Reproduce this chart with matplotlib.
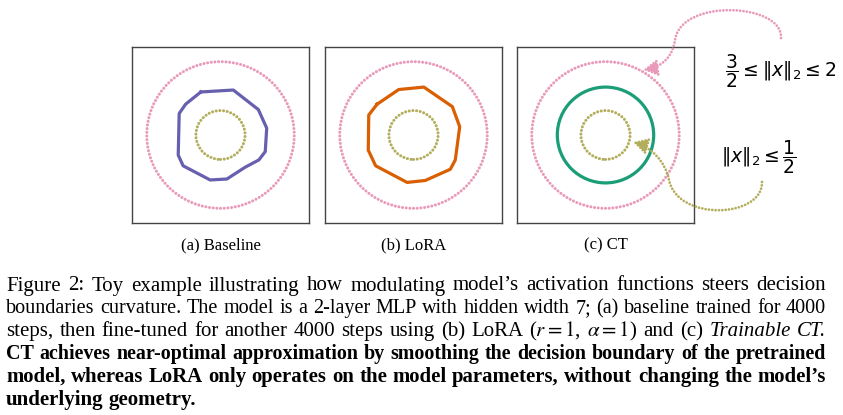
import numpy as np
import matplotlib
matplotlib.use("Agg")
import matplotlib.pyplot as plt
from matplotlib.patches import Circle, FancyArrowPatch
from matplotlib.path import Path

W, H = 843, 415

# ring radii of the toy data (inner class / outer class)
inner_radius = 0.5
outer_radius = 1.5

# decision boundaries (x, y in data units)
baseline_x = [-0.40, 0.26, 0.77, 0.94, 0.91, 0.78, 0.50, 0.13, -0.21, -0.76, -0.86, -0.84, -0.71]
baseline_y = [0.88, 0.92, 0.52, 0.14, -0.34, -0.51, -0.66, -0.90, -0.92, -0.63, -0.41, 0.44, 0.63]

lora_x = [-0.74, -0.30, 0.21, 0.79, 0.94, 0.85, 0.75, 0.24, -0.13, -0.77, -0.92, -0.91]
lora_y = [0.63, 0.93, 0.98, 0.58, 0.17, -0.51, -0.70, -0.93, -0.97, -0.63, -0.31, 0.41]

ct_radius = 0.98

panel_labels = ["(a) Baseline", "(b) LoRA", "(c) CT"]

COLORS = {
    "pink": "#e99abb",
    "olive": "#b3ae5c",
    "purple": "#6660ae",
    "orange": "#d95f02",
    "green": "#1b9e77",
    "frame": "#444444",
}

DOTS = (0, (0.01, 1.2))
LIM = 1.8

fig = plt.figure(figsize=(W / 100, H / 100), dpi=100)


def px_axes(left, top, w, h):
    return fig.add_axes([left / W, 1 - (top + h) / H, w / W, h / H])


def rings(ax):
    for r, c in [(outer_radius, COLORS["pink"]), (inner_radius, COLORS["olive"])]:
        circ = Circle((0, 0), r, fill=False, edgecolor=c, lw=2.2, linestyle=DOTS)
        circ.set_capstyle("round")
        ax.add_patch(circ)


def setup_panel(ax):
    ax.set_xlim(-LIM, LIM)
    ax.set_ylim(-LIM, LIM)
    ax.set_xticks([])
    ax.set_yticks([])
    for s in ax.spines.values():
        s.set_color(COLORS["frame"])
        s.set_linewidth(1.0)
    rings(ax)


lefts = [132, 325, 517]
axes = [px_axes(l, 47, 177, 176) for l in lefts]
for ax in axes:
    setup_panel(ax)

axes[0].plot(np.r_[baseline_x, baseline_x[0]], np.r_[baseline_y, baseline_y[0]],
             color=COLORS["purple"], lw=2.3, solid_joinstyle="round")
axes[1].plot(np.r_[lora_x, lora_x[0]], np.r_[lora_y, lora_y[0]],
             color=COLORS["orange"], lw=2.3, solid_joinstyle="round")
axes[2].add_patch(Circle((0, 0), ct_radius, fill=False, edgecolor=COLORS["green"], lw=2.3))

for l, lab in zip(lefts, panel_labels):
    fig.text((l + 88.5) / W, 1 - 249 / H, lab, ha="center", va="baseline",
             family="Liberation Serif", fontsize=12)

# overlay for the annotation arrows (pixel coordinates)
over = fig.add_axes([0, 0, 1, 1], zorder=5)
over.set_xlim(0, W)
over.set_ylim(H, 0)
over.axis("off")
over.patch.set_alpha(0)

pink_path = Path([(781, 38), (783, 3), (681, -2), (675, 40), (672, 62), (656, 68), (643, 70)],
                 [Path.MOVETO] + [Path.CURVE4] * 6)
olive_path = Path([(762, 182), (763, 218), (678, 222), (669, 180), (665, 160), (650, 147), (633, 142)],
                  [Path.MOVETO] + [Path.CURVE4] * 6)
for p, c in [(pink_path, COLORS["pink"]), (olive_path, COLORS["olive"])]:
    arr = FancyArrowPatch(path=p, arrowstyle="-|>,head_length=0.7,head_width=0.4",
                          mutation_scale=12, color=c, lw=2.0, linestyle=DOTS)
    arr.set_capstyle("round")
    over.add_patch(arr)

over.text(725, 71, r"$\dfrac{3}{2} \leq \|x\|_2 \leq 2$", fontsize=13.5, va="center", ha="left",
          math_fontfamily="dejavusans")
over.text(721, 157, r"$\|x\|_2 \leq \dfrac{1}{2}$", fontsize=13.5, va="center", ha="left",
          math_fontfamily="dejavusans")

# caption, justified
N, I, B = "normal", "italic", "bold"
caption = [
    ("Figure 2: Toy example illustrating how modulating model’s activation functions steers decision", N, True),
    ("boundaries curvature. The model is a 2-layer MLP with hidden width 7; (a) baseline trained for 4000", N, True),
    (None, N, True),
    ("CT achieves near-optimal approximation by smoothing the decision boundary of the pretrained", B, True),
    ("model, whereas LoRA only operates on the model parameters, without changing the model’s", B, True),
    ("underlying geometry.", B, False),
]
line3 = [(w, N) for w in "steps, then fine-tuned for another 4000 steps using (b) LoRA".split()]
line3 += [(r"($r=1$,", N), (r"$\alpha=1$)", N), ("and", N), ("(c)", N), ("Trainable", I), ("CT.", I)]
baselines = [290.5, 313.3, 336.3, 359.2, 382, 405]
X0, X1 = 6, 826
SIZE = 15.0

fig.canvas.draw()
renderer = fig.canvas.get_renderer()


def measure(objs):
    return [t.get_window_extent(renderer).width for t in objs]


for (text, weight, justify), yb in zip(caption, baselines):
    if text is None:
        tokens = line3
        weight = N
    else:
        tokens = [(w, N) for w in text.split()]
    objs = []
    for word, style in tokens:
        t = fig.text(0, 1 - yb / H, word, fontsize=SIZE, family="Liberation Serif",
                     weight=weight, style=style, va="baseline", ha="left",
                     math_fontfamily="stix")
        objs.append(t)
    widths = measure(objs)
    size = SIZE
    space = 0.25 * size * 100 / 72
    natural = sum(widths) + space * (len(objs) - 1)
    if justify and natural > X1 - X0:
        size = SIZE * (X1 - X0) / natural * 0.995
        for t in objs:
            t.set_fontsize(size)
        widths = measure(objs)
    if justify:
        gap = (X1 - X0 - sum(widths)) / (len(objs) - 1)
    else:
        gap = space
    x = X0
    for t, w in zip(objs, widths):
        t.set_x(x / W)
        x += w + gap

fig.savefig("out.png", dpi=100)
